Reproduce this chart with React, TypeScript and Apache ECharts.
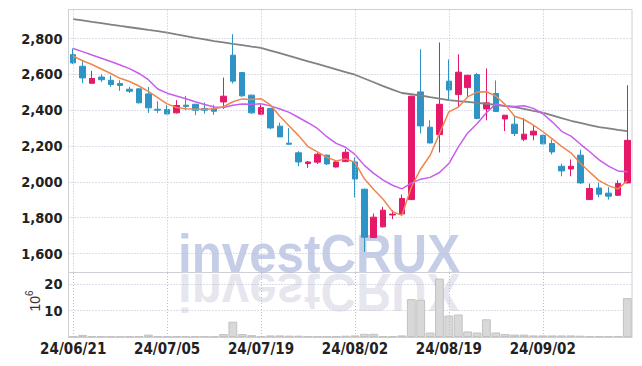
import React, { useEffect, useRef } from 'react';
import * as echarts from 'echarts';

const dates = [
  '24/06/21', '24/06/24', '24/06/25', '24/06/26', '24/06/27', '24/06/28',
  '24/07/01', '24/07/02', '24/07/03', '24/07/04', '24/07/05',
  '24/07/08', '24/07/09', '24/07/10', '24/07/11', '24/07/12',
  '24/07/15', '24/07/16', '24/07/17', '24/07/18', '24/07/19',
  '24/07/22', '24/07/23', '24/07/24', '24/07/25', '24/07/26',
  '24/07/29', '24/07/30', '24/07/31', '24/08/01', '24/08/02',
  '24/08/05', '24/08/06', '24/08/07', '24/08/08', '24/08/09',
  '24/08/12', '24/08/13', '24/08/14', '24/08/16',
  '24/08/19', '24/08/20', '24/08/21', '24/08/22', '24/08/23',
  '24/08/26', '24/08/27', '24/08/28', '24/08/29', '24/08/30',
  '24/09/02', '24/09/03', '24/09/04', '24/09/05', '24/09/06',
  '24/09/09', '24/09/10', '24/09/11', '24/09/12', '24/09/13',
];

const opens = [
  2710, 2645, 2550, 2585, 2567, 2549, 2517, 2519, 2491, 2405,
  2404, 2385, 2428, 2433, 2410, 2407, 2446, 2707, 2610, 2484,
  2378, 2410, 2311, 2216, 2162, 2102, 2110, 2149, 2083, 2113,
  2111, 1959, 1689, 1749, 1815, 1821, 1901, 2502, 2305, 2264,
  2562, 2487, 2526, 2599, 2407, 2493, 2351, 2322, 2238, 2262,
  2260, 2214, 2087, 2072, 2149, 1901, 1966, 1937, 1925, 1994,
];
const closes = [
  2664, 2580, 2577, 2570, 2543, 2538, 2506, 2441, 2413, 2400,
  2379, 2426, 2421, 2400, 2400, 2394, 2478, 2562, 2480, 2385,
  2415, 2301, 2251, 2210, 2111, 2111, 2154, 2100, 2111, 2165,
  2016, 1691, 1803, 1842, 1820, 1907, 2478, 2312, 2217, 2433,
  2513, 2612, 2595, 2354, 2441, 2393, 2372, 2270, 2266, 2283,
  2212, 2167, 2061, 2087, 1994, 1963, 1931, 1920, 1991, 2232,
];
const lows = [
  2658, 2550, 2550, 2558, 2530, 2508, 2496, 2438, 2385, 2385,
  2377, 2381, 2400, 2372, 2381, 2374, 2407, 2549, 2475, 2380,
  2376, 2294, 2250, 2208, 2087, 2078, 2099, 2094, 2080, 2110,
  1913, 1609, 1686, 1745, 1792, 1818, 1898, 2270, 2215, 2164,
  2456, 2415, 2474, 2350, 2344, 2390, 2283, 2255, 2227, 2232,
  2210, 2153, 2031, 2031, 1989, 1899, 1913, 1901, 1923, 1992,
];
const highs = [
  2745, 2680, 2620, 2600, 2593, 2567, 2530, 2522, 2530, 2450,
  2428, 2456, 2480, 2436, 2443, 2430, 2582, 2824, 2612, 2486,
  2432, 2412, 2331, 2300, 2171, 2117, 2164, 2152, 2121, 2184,
  2136, 1962, 1823, 1860, 1842, 1929, 2480, 2740, 2344, 2778,
  2683, 2712, 2597, 2608, 2633, 2566, 2373, 2368, 2357, 2314,
  2262, 2236, 2102, 2125, 2180, 1991, 1996, 1970, 2009, 2539,
];

const ma5 = [
  2701, 2676, 2655, 2630, 2605, 2578, 2560, 2535, 2505, 2470,
  2435, 2415, 2408, 2405, 2405, 2408, 2419, 2447, 2463, 2460,
  2464, 2429, 2366, 2312, 2258, 2197, 2167, 2137, 2117, 2128,
  2109, 2017, 1957, 1903, 1834, 1813, 1970, 2072, 2147, 2269,
  2391, 2417, 2474, 2501, 2503, 2479, 2431, 2366, 2348, 2317,
  2281, 2240, 2198, 2162, 2104, 2054, 2007, 1979, 1960, 2007,
];
const ma10 = [
  2744, 2727, 2708, 2690, 2672, 2652, 2632, 2605, 2570, 2518,
  2495, 2479, 2464, 2447, 2432, 2418, 2415, 2427, 2434, 2433,
  2436, 2424, 2407, 2388, 2359, 2330, 2298, 2252, 2215, 2193,
  2153, 2092, 2047, 2010, 1981, 1961, 1993, 2015, 2025, 2052,
  2102, 2194, 2273, 2324, 2386, 2435, 2424, 2420, 2425, 2410,
  2380, 2335, 2282, 2255, 2211, 2168, 2123, 2088, 2061, 2056,
];
const ma60 = [
  2908, 2901, 2893, 2886, 2878, 2870, 2863, 2856, 2848, 2841,
  2833, 2823, 2814, 2804, 2795, 2785, 2778, 2770, 2763, 2755,
  2748, 2733, 2718, 2703, 2688, 2673, 2658, 2643, 2628, 2613,
  2598, 2577, 2556, 2534, 2515, 2496, 2489, 2482, 2473, 2465,
  2456, 2451, 2446, 2441, 2436, 2430, 2423, 2417, 2407, 2396,
  2386, 2371, 2356, 2341, 2329, 2317, 2305, 2298, 2290, 2283,
];

// volume in millions of shares
const volumes = [
  0.3, 0.8, 0.3, 0.2, 0.2, 0.2, 0.2, 0.3, 0.9, 0.3,
  0.2, 0.3, 0.3, 0.2, 0.2, 0.2, 1.1, 5.8, 1.1, 0.7,
  0.3, 0.6, 0.6, 0.5, 0.5, 0.2, 0.2, 0.2, 0.3, 0.5,
  0.6, 1.2, 1.2, 0.3, 0.3, 0.6, 14.3, 14.1, 1.7, 22.1,
  8.1, 8.5, 2.1, 1.7, 6.7, 1.7, 1.1, 0.9, 0.9, 0.6,
  0.6, 0.6, 0.6, 0.6, 0.5, 0.3, 0.3, 0.3, 0.4, 14.7,
];

const labelDates = ['24/06/21', '24/07/05', '24/07/19', '24/08/02', '24/08/19', '24/09/02'];

export default function App() {
  const ref = useRef<HTMLDivElement>(null);

  useEffect(() => {
    document.body.style.margin = '0';
    const chart = echarts.init(ref.current as HTMLDivElement, null, { renderer: 'svg' });
    const font = "'Liberation Sans Narrow', 'DejaVu Sans Condensed', 'Arial Narrow', sans-serif";
    const gridLine = { color: '#bcbcd6', width: 1, type: [1, 2] as any };
    const border = '#cfcfd8';
    const red = '#e5186a';
    const blue = '#2e94c6';
    const candle = dates.map((_, i) => [opens[i], closes[i], lows[i], highs[i]]);
    const vLines = {
      silent: true,
      symbol: 'none',
      label: { show: false },
      lineStyle: { ...gridLine },
      data: labelDates.map((d) => ({ xAxis: d })),
    };

    chart.setOption({
      animation: false,
      backgroundColor: '#ffffff',
      grid: [
        { left: 68.5, right: 10, top: 9.5, height: 263, show: true, borderColor: border, borderWidth: 1, backgroundColor: 'transparent' },
        { left: 68.5, right: 10, top: 272.5, height: 64.5, show: true, borderColor: border, borderWidth: 1, backgroundColor: 'transparent' },
      ],
      graphic: [
        {
          type: 'text',
          x: 178,
          y: 253.6,
          scaleX: 0.93,
          z: 0,
          silent: true,
          style: {
            text: 'investCRUX',
            font: "bold 53px 'Liberation Sans', Arial, sans-serif",
            fill: 'rgba(140,155,207,0.5)',
            align: 'left',
            verticalAlign: 'middle',
          },
        },
        {
          type: 'text',
          x: 178,
          y: 292.5,
          scaleX: 0.93,
          scaleY: -1,
          z: 0,
          silent: true,
          style: {
            text: 'investCRUX',
            font: "bold 53px 'Liberation Sans', Arial, sans-serif",
            fill: 'rgba(185,185,210,0.35)',
            align: 'left',
            verticalAlign: 'middle',
          },
        },
        {
          type: 'text',
          x: 33,
          y: 301,
          rotation: Math.PI / 2,
          silent: true,
          style: {
            text: '{a|10}{b|6}',
            align: 'center',
            verticalAlign: 'middle',
            fill: '#333',
            rich: {
              a: { fontSize: 14, fontFamily: 'Liberation Sans, Arial, sans-serif', fill: '#333', verticalAlign: 'bottom', lineHeight: 18 },
              b: { fontSize: 10, fontFamily: 'Liberation Sans, Arial, sans-serif', fill: '#333', verticalAlign: 'top', lineHeight: 18 },
            },
          },
        },
      ],
      xAxis: [
        {
          type: 'category',
          gridIndex: 0,
          data: dates,
          boundaryGap: true,
          axisLine: { show: false },
          axisTick: { show: false },
          axisLabel: { show: false },
          splitLine: { show: false },
        },
        {
          type: 'category',
          gridIndex: 1,
          data: dates,
          boundaryGap: true,
          axisLine: { show: true, lineStyle: { color: border } },
          axisTick: { show: false },
          splitLine: { show: false },
          axisLabel: {
            interval: (idx: number) => idx % 10 === 0,
            margin: 4,
            color: '#222',
            fontFamily: font,
            fontWeight: 'bold',
            fontSize: 15,
          },
        },
      ],
      yAxis: [
        {
          type: 'value',
          gridIndex: 0,
          min: 1494,
          max: 2962,
          splitNumber: 7,
          axisLine: { show: true, lineStyle: { color: border } },
          axisTick: { show: false },
          splitLine: { show: true, showMinLine: false, showMaxLine: false, lineStyle: gridLine },
          axisLabel: {
            showMinLabel: false,
            showMaxLabel: false,
            margin: 6,
            color: '#222',
            fontFamily: font,
            fontWeight: 'bold',
            fontSize: 14.5,
            formatter: (v: number) => v.toLocaleString('en-US'),
          },
        },
        {
          type: 'value',
          gridIndex: 1,
          min: 0,
          max: 24.4,
          interval: 10,
          axisLine: { show: true, lineStyle: { color: border } },
          axisTick: { show: false },
          splitLine: { show: true, showMinLine: false, showMaxLine: false, lineStyle: gridLine },
          axisLabel: {
            showMinLabel: false,
            showMaxLabel: false,
            margin: 6,
            color: '#222',
            fontFamily: font,
            fontWeight: 'bold',
            fontSize: 14.5,
          },
        },
      ],
      series: [
        {
          type: 'line',
          xAxisIndex: 0,
          yAxisIndex: 0,
          data: [],
          z: 1,
          silent: true,
          markLine: vLines,
        },
        {
          type: 'candlestick',
          xAxisIndex: 0,
          yAxisIndex: 0,
          data: candle,
          barWidth: 6,
          z: 2,
          itemStyle: {
            color: red,
            color0: blue,
            borderColor: red,
            borderColor0: blue,
            borderWidth: 1,
          },
        },
        {
          type: 'line',
          xAxisIndex: 0,
          yAxisIndex: 0,
          data: ma60,
          showSymbol: false,
          z: 3,
          lineStyle: { color: '#828282', width: 1.8 },
        },
        {
          type: 'line',
          xAxisIndex: 0,
          yAxisIndex: 0,
          data: ma10,
          showSymbol: false,
          z: 3,
          lineStyle: { color: '#c75cee', width: 1.5 },
        },
        {
          type: 'line',
          xAxisIndex: 0,
          yAxisIndex: 0,
          data: ma5,
          showSymbol: false,
          z: 3,
          lineStyle: { color: '#ee864e', width: 1.5 },
        },
        {
          type: 'bar',
          xAxisIndex: 1,
          yAxisIndex: 1,
          data: volumes,
          barWidth: '94%',
          z: 2,
          itemStyle: { color: '#d8d8d8', borderColor: '#c2c2c2', borderWidth: 1 },
          markLine: vLines,
        },
      ],
    });

    return () => {
      chart.dispose();
    };
  }, []);

  return <div ref={ref} style={{ width: 642, height: 366, position: 'absolute', left: 0, top: 0 }} />;
}
